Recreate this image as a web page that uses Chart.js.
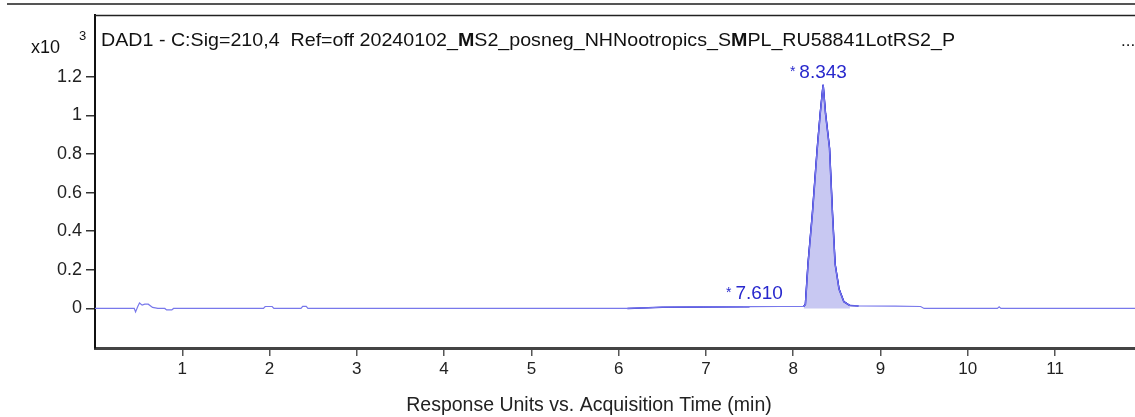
<!DOCTYPE html>
<html>
<head>
<meta charset="utf-8">
<script src="https://cdn.jsdelivr.net/npm/chart.js@4"></script>
<style>
  body { margin: 0; overflow: hidden; background: #fff; }
  #frame { position: absolute; left: 7px; right: 0; top: 3px; border-top: 2px solid #555; }
  canvas { position: absolute; left: 0; top: 0; }
</style>
</head>
<body>
<div id="frame"></div>
<canvas id="grafico" width="1160" height="417"></canvas>
<script>
// retention time (min) and response (x10^3)
const traceTime = [0, 0.45, 0.465, 0.49, 0.51, 0.54, 0.57, 0.61, 0.66, 0.72, 0.8, 0.82, 0.88, 0.9,
  1.93, 1.95, 2.03, 2.05, 2.36, 2.38, 2.42, 2.44, 6.1, 6.5, 7.0, 7.5, 7.85, 8.12, 8.14, 8.17, 8.22,
  8.276, 8.31, 8.343, 8.37, 8.416, 8.45, 8.48, 8.525, 8.58, 8.65, 8.75, 9.17, 9.46, 9.5, 10.34,
  10.36, 10.38, 12.2];
const traceValue = [0, 0, -0.018, 0.01, 0.028, 0.017, 0.022, 0.022, 0.005, 0, 0, -0.008, -0.008, 0,
  0, 0.01, 0.01, 0, 0, 0.011, 0.011, 0, 0, 0.006, 0.008, 0.009, 0.01, 0.01, 0.02, 0.23, 0.49,
  0.83, 1.01, 1.158, 1.01, 0.83, 0.49, 0.23, 0.1, 0.035, 0.015, 0.013, 0.012, 0.01, 0, 0,
  0.008, 0, 0];

// integrated regions
const integStart = [6.1, 8.12];
const integEnd = [7.75, 9.12];
const peakFillStart = 8.12;
const peakFillEnd = 8.65;

// peak labels
const peakLabels = ["8.343", "7.610"];
const peakTimes = [8.343, 7.61];
const peakHeights = [1.158, 0.01];

const xTicks = [1, 2, 3, 4, 5, 6, 7, 8, 9, 10, 11];
const yTicks = [0, 0.2, 0.4, 0.6, 0.8, 1, 1.2];

const titleParts = [
  ["DAD1 - C:Sig=210,4  Ref=off 20240102_", false],
  ["M", true],
  ["S2_posneg_NHNootropics_S", false],
  ["M", true],
  ["PL_RU58841LotRS2_P", false]
];
const xTitle = "Response Units vs. Acquisition Time (min)";

const FONT = "'Liberation Sans', Arial, sans-serif";

function pointsBetween(a, b) {
  let pts = [];
  traceTime.forEach(function (t, i) {
    if (t >= a - 1e-9 && t <= b + 1e-9) pts.push({ x: t, y: traceValue[i] });
  });
  return pts;
}

let datasets = [
  {
    data: traceTime.map(function (t, i) { return { x: t, y: traceValue[i] }; }),
    borderColor: "rgb(120,120,235)",
    borderWidth: 1.2,
    pointRadius: 0,
    fill: false
  },
  {
    data: pointsBetween(peakFillStart, peakFillEnd),
    borderColor: "rgb(30,30,205)",
    backgroundColor: "rgba(200,200,242,1)",
    borderWidth: 1.5,
    pointRadius: 0,
    fill: "origin"
  }
];
integStart.forEach(function (s, k) {
  datasets.push({
    data: pointsBetween(s, integEnd[k]),
    borderColor: "rgb(30,30,205)",
    borderWidth: 1.5,
    pointRadius: 0,
    fill: false
  });
});

const extras = {
  id: "extras",
  afterDraw: function (chart) {
    const ctx = chart.ctx;
    const a = chart.chartArea;
    const xs = chart.scales.x, ys = chart.scales.y;
    ctx.save();
    // box top
    ctx.strokeStyle = "#222";
    ctx.lineWidth = 1.5;
    ctx.beginPath();
    ctx.moveTo(a.left, a.top + 0.5);
    ctx.lineTo(a.right, a.top + 0.5);
    ctx.stroke();

    // title with bold M's, fitted to width
    ctx.fillStyle = "#111";
    ctx.textBaseline = "alphabetic";
    let total = 0;
    titleParts.forEach(function (p) {
      ctx.font = (p[1] ? "bold " : "") + "19px " + FONT;
      total += ctx.measureText(p[0]).width;
    });
    const sx = 854 / total;
    ctx.save();
    ctx.translate(101, 46);
    ctx.scale(sx, 1);
    let cx = 0;
    titleParts.forEach(function (p) {
      ctx.font = (p[1] ? "bold " : "") + "19px " + FONT;
      ctx.fillText(p[0], cx, 0);
      cx += ctx.measureText(p[0]).width;
    });
    ctx.restore();
    ctx.font = "17px " + FONT;
    ctx.fillText("...", 1121, 46);

    // x10^3
    ctx.font = "18px " + FONT;
    ctx.fillText("x10", 31, 53);
    ctx.font = "13px " + FONT;
    ctx.fillText("3", 79, 40);

    // x axis title
    ctx.fillStyle = "#222";
    ctx.font = "19.5px " + FONT;
    ctx.textAlign = "center";
    ctx.fillText(xTitle, 589, 411);

    // peak labels
    ctx.fillStyle = "rgb(40,40,205)";
    peakLabels.forEach(function (lab, i) {
      const px = xs.getPixelForValue(peakTimes[i]);
      const py = ys.getPixelForValue(peakHeights[i]) - 7;
      ctx.font = "19px " + FONT;
      ctx.textAlign = "center";
      ctx.fillText(lab, px, py);
      const w = ctx.measureText(lab).width;
      ctx.font = "14px " + FONT;
      ctx.textAlign = "right";
      ctx.fillText("*", px - w / 2 - 4, py - 2);
    });
    ctx.restore();
  }
};

document.addEventListener("DOMContentLoaded", function () {
  let ctx = document.getElementById("grafico").getContext("2d");
  new Chart(ctx, {
    type: "line",
    data: { datasets: datasets },
    options: {
      responsive: false,
      animation: false,
      layout: { padding: { left: 0, top: 15, right: 2, bottom: 0 } },
      plugins: { legend: { display: false }, tooltip: { enabled: false } },
      elements: { line: { tension: 0 } },
      scales: {
        x: {
          type: "linear",
          min: 0,
          max: 12.18,
          afterBuildTicks: function (axis) {
            axis.ticks = xTicks.map(function (v) { return { value: v }; });
          },
          afterFit: function (axis) { axis.height = 69; },
          grid: { drawOnChartArea: false, drawTicks: true, tickLength: 8, color: "#555", lineWidth: 1.5 },
          border: { display: true, color: "#444", width: 3 },
          ticks: { color: "#222", font: { family: FONT, size: 17 }, padding: 3, maxRotation: 0 },
          title: { display: false }
        },
        y: {
          min: -0.205,
          max: 1.52,
          afterBuildTicks: function (axis) {
            axis.ticks = yTicks.map(function (v) { return { value: v }; });
          },
          afterFit: function (axis) { axis.width = 95; },
          grid: { drawOnChartArea: false, drawTicks: true, tickLength: 9, color: "#333", lineWidth: 1.5 },
          border: { display: true, color: "#111", width: 2 },
          ticks: {
            color: "#222",
            font: { family: FONT, size: 18 },
            padding: 4,
            callback: function (v) { return String(v); }
          }
        }
      }
    },
    plugins: [extras]
  });
});
</script>
</body>
</html>
